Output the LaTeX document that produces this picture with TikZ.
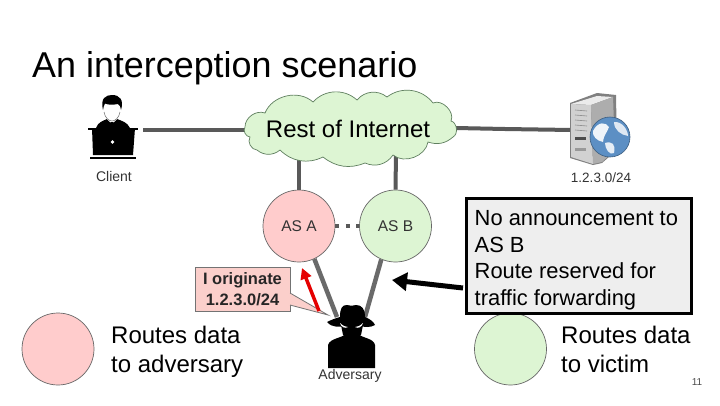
\documentclass[tikz,border=0pt]{standalone}
\usepackage{fontspec}
\setmainfont{Liberation Sans}
\usetikzlibrary{arrows.meta}
\definecolor{linkgray}{HTML}{595959}
\definecolor{pinkfill}{HTML}{FFCCCC}
\definecolor{greenfill}{HTML}{DDF5D3}
\definecolor{calloutfill}{HTML}{FBCFCB}
\definecolor{boxfill}{HTML}{EEEEEE}
\definecolor{circleedge}{HTML}{666666}
\definecolor{cloudedge}{HTML}{5F7F5F}
\definecolor{globeblue}{HTML}{5C8FC4}
\tikzset{
  link/.style={draw=linkgray,line width=4pt},
  asnode/.style={circle,draw=circleedge,line width=0.7pt,minimum size=72pt,inner sep=0pt},
  pinknode/.style={asnode,fill=pinkfill},
  greennode/.style={asnode,fill=greenfill},
  txt/.style={inner sep=0pt,anchor=base west,align=left},
  small/.style={inner sep=0pt,font=\fontsize{14}{16}\selectfont,text=black!80},
  big/.style={txt,font=\fontsize{24}{28.5}\selectfont},
}
\begin{document}
\begin{tikzpicture}[x=1pt,y=-1pt]
\useasboundingbox[fill=white] (0,0) rectangle (720,405);
% title
\node[txt,font=\fontsize{35.9}{40}\selectfont] (title) at (32,77) {An interception scenario};
% connector endpoints
\coordinate (clientport) at (143,130);
\coordinate (cloudwest) at (246,130);
\coordinate (cloudeast) at (456,128);
\coordinate (bend) at (505,129);
\coordinate (serverport) at (572,130);
\coordinate (cloudA) at (299,158);
\coordinate (cloudB) at (396,153);
\coordinate (advA) at (337,317);
\coordinate (advB) at (365,317);
% circles
\node[pinknode] (asa) at (299,226) {};
\node[greennode] (asb) at (395.5,226) {};
\node[pinknode] (legendpink) at (58,349) {};
\node[greennode] (legendgreen) at (510.5,349) {};
% links
\draw[link] (clientport) -- (cloudwest);
\draw[link] (cloudeast) -- (bend) -- (serverport);
\draw[link] (cloudA) -- (asa.north);
\draw[link] (cloudB) -- (asb.north);
\draw[link,line width=4.5pt,draw=linkgray!90!white] (asa.-65) -- (advA);
\draw[link,line width=4.5pt,draw=linkgray!90!white] (asb.-113) -- (advB);
\draw[link,dash pattern=on 4pt off 6.5pt] (asa.east) -- (asb.west);
% cloud
\draw[draw=cloudedge,line width=0.7pt,fill=greenfill]
  (245,127) to[bend left=55] (265,113) to[bend left=55] (313,102)
  to[bend left=45] (357,100) to[bend left=45] (387,97) to[bend left=45] (433,103)
  to[bend left=70] (451,121) to[bend left=70] (453,137) to[bend left=30] (428,142)
  to[bend left=60] (393,155) to[bend left=40] (365,163) to[bend left=30] (323,157)
  to[bend left=35] (280,150) to[bend left=40] (257,150) to[bend left=60] (250,137)
  to[bend left=60] (245,127) -- cycle;
\node[inner sep=0pt,font=\fontsize{24}{27}\selectfont] (cloudlabel) at (348,129) {Rest of Internet};
% AS labels
\node[inner sep=0pt,font=\fontsize{15.5}{18}\selectfont,text=black!80] at (asa) {AS A};
\node[inner sep=0pt,font=\fontsize{15.5}{18}\selectfont,text=black!80] at (asb) {AS B};
% client icon
\fill (92,128) -- (135,128) -- (133,155) -- (93,155) -- cycle;
\fill (88,128) rectangle (138,130);
\fill (90,156.5) rectangle (136,158.5);
\fill (96,128) .. controls (98,122) and (103,121) .. (107,119) -- (117,119) .. controls (122,121) and (127,122) .. (130,128) -- cycle;
\fill[white] (107,119) -- (112,124) -- (117,119) -- (114,116) -- (110,116) -- cycle;
\fill (110.5,122) -- (113.5,122) -- (114.5,128) -- (109.5,128) -- cycle;
\fill[white] (112,111) ellipse (8pt and 10pt);
\fill (103,110) .. controls (100,98) and (106,95) .. (112,95) .. controls (120,95) and (124,100) .. (121,110) .. controls (120.5,107) and (120,105) .. (118,104) .. controls (113,105) and (108,105) .. (105,103.5) .. controls (104,105) and (103.5,107) .. (103,110) -- cycle;
\draw[line width=0.5pt,black!60] (104,112) .. controls (105,118) and (109,121) .. (112,121) .. controls (115,121) and (119,118) .. (120,112);
\fill[white] (112.5,142) circle (1.8pt);
\node[small] (clientlabel) at (114,176) {Client};
% server icon
\fill[black!50] (570,103) -- (597,93) -- (616,95) -- (617,150) -- (602,163) -- (593,165) -- (570,158) -- cycle;
\fill[black!8] (571,104) -- (597,96) -- (613,97) -- (591,105) -- cycle;
\fill[black!18] (571,104) -- (591,105) -- (593,164) -- (571,157) -- cycle;
\fill[black!32] (591,105) -- (613,97) -- (615,150) -- (602,162) -- (593,164) -- cycle;
\foreach \yy in {110,115,120,125,130}{\draw[black!45,line width=0.6pt] (575,\yy) -- (587,\yy+1);}
\fill[black!70] (575,137) rectangle (586,140);
\fill[black!40] (575,148) rectangle (586,151);
\fill[globeblue,draw=black!35!globeblue,line width=0.6pt] (610,137) circle (20pt);
\fill[white,opacity=0.9] (593,131) .. controls (598,121) and (606,122) .. (609,127) .. controls (607,133) and (604,134) .. (603,142) .. controls (597,141) and (592,136) .. (593,131) -- cycle;
\fill[white,opacity=0.85] (605,143) .. controls (612,141) and (616,144) .. (614,153) .. controls (610,156) and (605,149) .. (605,143) -- cycle;
\fill[white,opacity=0.8] (614,122) .. controls (622,121) and (628,130) .. (628,136) .. controls (621,135) and (614,130) .. (614,122) -- cycle;
\node[small,font=\fontsize{13.5}{16}\selectfont] (serverlabel) at (601,178) {1.2.3.0/24};
% adversary icon
\fill (340,317) .. controls (340,308) and (342,305) .. (347,305) .. controls (350,306) and (353,306) .. (356,305) .. controls (362,305) and (365,309) .. (365,317) .. controls (370,319) and (374,322) .. (375,325) .. controls (370,328) and (364,327) .. (360,326) -- (345,326) .. controls (340,327) and (332,328) .. (327,322) .. controls (331,320) and (336,318) .. (340,317) -- cycle;
\fill (341,325) -- (363,325) -- (361,335) -- (343,335) -- cycle;
\fill[white] (340,323) .. controls (343,326) and (346,327) .. (348,327) .. controls (345,329) and (341,327) .. (340,323) -- cycle;
\fill[white] (363,323) .. controls (360,326) and (357,327) .. (355,327) .. controls (358,329) and (362,327) .. (363,323) -- cycle;
\fill (345,334) -- (359,334) .. controls (361,338) and (374,338) .. (375,345) -- (375,368) -- (328,368) -- (328,345) .. controls (330,338) and (343,338) .. (345,334) -- cycle;
\node[small] (advlabel) at (350,376) {Adversary};
% callout
\coordinate (calloutTip) at (328,315);
\node[draw=black!55,line width=0.8pt,fill=calloutfill,minimum width=95pt,minimum height=44pt,inner sep=0pt] (callout) at (242.5,289) {};
\fill[calloutfill] (calloutTip) -- (290,305) -- (290,293) -- cycle;
\draw[black!55,line width=0.8pt] (290,293) -- (calloutTip) -- (290,305);
\node[inner sep=0pt,align=center,font=\fontsize{16.5}{21}\bfseries\selectfont,text=black!85] (calloutlabel) at (callout) {I originate\\1.2.3.0/24};
% red arrow
\coordinate (redstart) at (319,311);
\coordinate (redend) at (302,268);
\draw[red!90!black,line width=3.5pt,-{Triangle[length=11pt,width=11pt]}] (redstart) -- (redend);
% black box
\node[draw=black,line width=3pt,fill=boxfill,minimum width=225pt,minimum height=115pt,inner sep=0pt] (notebox) at (578.5,255.5) {};
\node[txt,font=\fontsize{21.9}{26.4}\selectfont] (notetext) at (474.5,305) {No announcement to\\AS B\\Route reserved for\\traffic forwarding};
% black arrow
\coordinate (blackstart) at (463,288);
\coordinate (blackend) at (392,280);
\draw[black,line width=5pt,-{Triangle[length=15pt,width=18pt]}] (blackstart) -- (blackend);
% legend text
\node[big] (legendleft) at (111,372) {Routes data\\to adversary};
\node[big] (legendright) at (561,372) {Routes data\\to victim};
\node[inner sep=0pt,font=\fontsize{10}{12}\selectfont,text=black!70] (pagenum) at (697,382) {11};
\end{tikzpicture}
\end{document}
